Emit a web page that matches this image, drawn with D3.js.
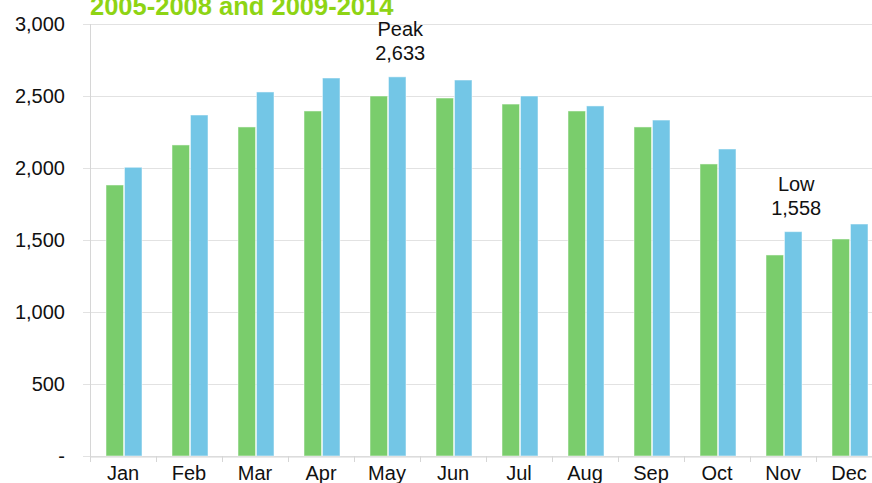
<!DOCTYPE html>
<html>
<head>
<meta charset="utf-8">
<script src="https://cdn.jsdelivr.net/npm/d3@7"></script>
<style>
  body { margin: 0; background: #fff; }
  text { font-family: "Liberation Sans", Arial, sans-serif; fill: #111; }
  .title { font-size: 25.5px; font-weight: bold; fill: #8ed414; }
  .tick-label { font-size: 20px; }
  .note { font-size: 20px; }
</style>
</head>
<body>
<svg id="chart"></svg>
<script>
const months = ["Jan", "Feb", "Mar", "Apr", "May", "Jun", "Jul", "Aug", "Sep", "Oct", "Nov", "Dec"];
const series = ["2005-2008", "2009-2014"];
const avg0508 = [1882, 2160, 2285, 2396, 2500, 2486, 2444, 2396, 2285, 2028, 1396, 1507];
const avg0914 = [2005, 2368, 2528, 2625, 2633, 2611, 2500, 2431, 2333, 2132, 1558, 1611];
const yTicks = [0, 500, 1000, 1500, 2000, 2500, 3000];
const notes = [
    { month: "May", lines: ["Peak", "2,633"], value: 2633 },
    { month: "Nov", lines: ["Low", "1,558"], value: 1558 }
];

const width = 872, height = 483;
const margin = { top: 24, right: -10, bottom: 27, left: 90 };

const svg = d3.select("#chart").attr("width", width).attr("height", height);

const x = d3.scaleBand().domain(months).range([margin.left, width - margin.right]);
const x1 = d3.scaleBand().domain(series).range([16, 52]).paddingInner(0.05);
const y = d3.scaleLinear().domain([0, 3000]).range([height - margin.bottom, margin.top]);

const colors = { "2005-2008": "#7acd6c", "2009-2014": "#73c6e6" };

// grid lines
svg.append("g")
    .selectAll("line")
    .data(yTicks)
    .enter().append("line")
    .attr("x1", margin.left - 7)
    .attr("x2", width)
    .attr("y1", d => Math.round(y(d)) + 0.5)
    .attr("y2", d => Math.round(y(d)) + 0.5)
    .attr("stroke", "#e2e2e2")
    .attr("stroke-width", 1);

// y labels
svg.append("g")
    .selectAll("text")
    .data(yTicks)
    .enter().append("text")
    .attr("class", "tick-label")
    .attr("x", 65)
    .attr("y", d => y(d))
    .attr("dy", "0.35em")
    .attr("text-anchor", "end")
    .text(d => d === 0 ? "-" : d3.format(",")(d));

// bars
const rows = months.map((m, i) => ({ month: m, values: [avg0508[i], avg0914[i]] }));

const groups = svg.append("g")
    .selectAll("g")
    .data(rows)
    .enter().append("g")
    .attr("transform", d => `translate(${x(d.month)},0)`);

groups.selectAll("rect")
    .data(d => series.map((s, j) => ({ key: s, value: d.values[j] })))
    .enter().append("rect")
    .attr("x", d => x1(d.key))
    .attr("width", x1.bandwidth())
    .attr("y", d => y(d.value))
    .attr("height", d => y(0) - y(d.value))
    .attr("fill", d => colors[d.key])
    .attr("stroke", "#fff")
    .attr("stroke-opacity", 0.5)
    .attr("stroke-width", 1);

// axes lines
svg.append("line")
    .attr("x1", margin.left + 0.5).attr("x2", margin.left + 0.5)
    .attr("y1", y(3000)).attr("y2", y(0) + 6)
    .attr("stroke", "#d6d6d6");

const xAxis = d3.axisBottom(x).tickSize(0);
const gx = svg.append("g")
    .attr("transform", `translate(0,${Math.round(y(0)) + 0.5})`)
    .call(xAxis);
gx.select(".domain").attr("stroke", "#d6d6d6");
gx.selectAll("text")
    .attr("class", "tick-label")
    .attr("y", 23)
    .attr("dy", "0");
gx.attr("font-size", null).attr("font-family", null);

// category separators
svg.append("g")
    .selectAll("line")
    .data(months)
    .enter().append("line")
    .attr("x1", d => Math.round(x(d)) + 0.5)
    .attr("x2", d => Math.round(x(d)) + 0.5)
    .attr("y1", y(0))
    .attr("y2", y(0) + 6)
    .attr("stroke", "#d6d6d6");

// annotations
notes.forEach(n => {
    const cx = x(n.month) + x1("2009-2014") + x1.bandwidth() / 2;
    n.lines.forEach((t, k) => {
        svg.append("text")
            .attr("class", "note")
            .attr("x", cx + 3)
            .attr("y", y(n.value) - 48 + k * 24)
            .attr("dy", "0.35em")
            .attr("text-anchor", "middle")
            .text(t);
    });
});

// title (partially cut off at the top, as in the source)
svg.append("text")
    .attr("class", "title")
    .attr("x", 90)
    .attr("y", 15)
    .text("2005-2008 and 2009-2014");
</script>
</body>
</html>
